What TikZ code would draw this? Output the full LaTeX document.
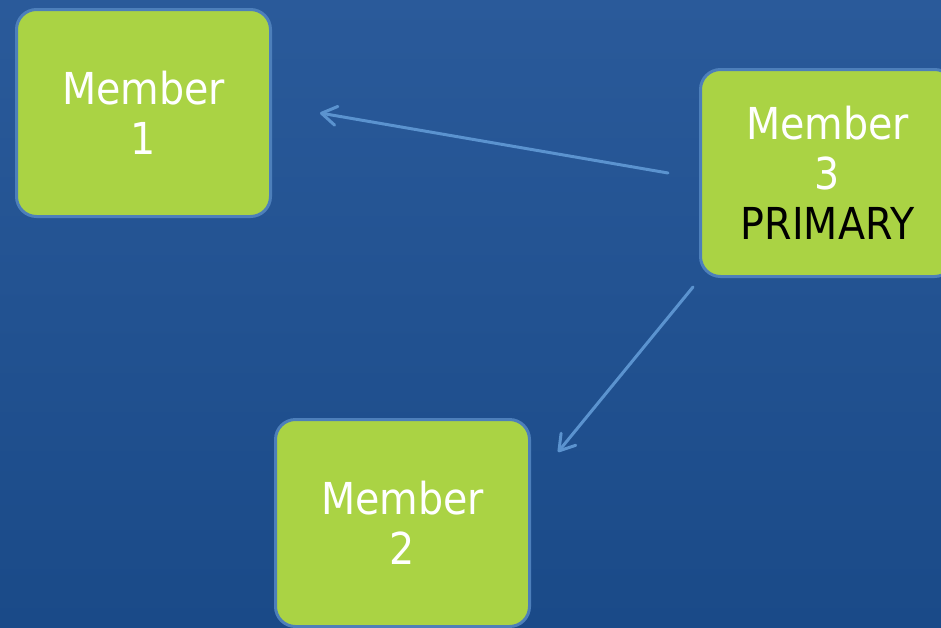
\documentclass[tikz,border=0pt]{standalone}
\usepackage{fontspec}
\setmainfont{DejaVu Sans}[FakeStretch=0.9]
\usetikzlibrary{arrows.meta,calc}
\definecolor{bgtop}{HTML}{2A5A9A}
\definecolor{bgbot}{HTML}{1A4A88}
\definecolor{boxgreen}{HTML}{AAD344}
\definecolor{boxedge}{HTML}{4D7FBA}
\definecolor{arrowblue}{HTML}{5B93CF}
\begin{document}
\begin{tikzpicture}[x=1pt,y=-1pt,
  member/.style={draw=boxedge, line width=3pt, fill=boxgreen, rounded corners=20pt,
    minimum width=254pt, minimum height=207pt, inner sep=0pt, align=center,
    text=white, font=\fontsize{44}{50}\selectfont},
  link/.style={draw=arrowblue, line width=3pt, line cap=round,
    -{Straight Barb[length=15pt,width=19pt,line cap=round,line join=round]}}]
\useasboundingbox (0,0) rectangle (941,627);
\shade[top color=bgtop,bottom color=bgbot] (0,0) rectangle (941,627);
\begin{scope}
\clip (0,0) rectangle (941,627);
\node[member] (m1) at (143.5,113) {Member\\1};
\node[member] (m3) at (827.5,173) {Member\\3\\\textcolor{black}{PRIMARY}};
\node[member] (m2) at (402.5,523) {Member\\2};
\draw[link] ($(m3.west)+(-31,0)$) -- ($(m1.east)+(48,0)$);
\draw[link] ($(m3.south west)+(-6,9)$) -- ($(m2.north east)+(27,34)$);
\end{scope}
\end{tikzpicture}
\end{document}
